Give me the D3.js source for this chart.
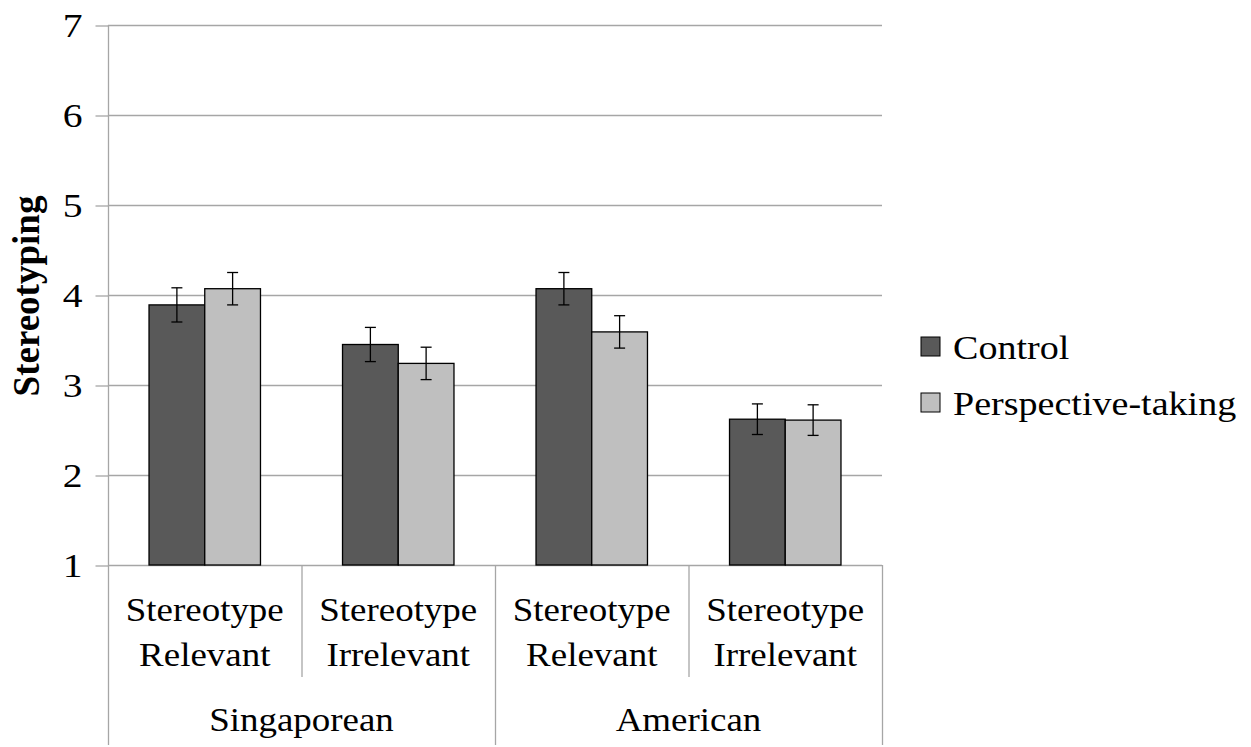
<!DOCTYPE html>
<html>
<head>
<meta charset="utf-8">
<script src="https://cdn.jsdelivr.net/npm/d3@7"></script>
<style>
  body { margin: 0; background: #fff; }
  text { font-family: "Liberation Serif", "Times New Roman", serif; fill: #000; }
</style>
</head>
<body>
<div id="chart"></div>
<script>
// chart data
var categories = ["SG-Relevant", "SG-Irrelevant", "US-Relevant", "US-Irrelevant"];
var catLine1 = ["Stereotype", "Stereotype", "Stereotype", "Stereotype"];
var catLine2 = ["Relevant", "Irrelevant", "Relevant", "Irrelevant"];
var groups = ["Singaporean", "American"];
var series = ["Control", "Perspective-taking"];
var controlValues = [3.89, 3.45, 4.07, 2.62];
var controlErrors = [0.19, 0.19, 0.18, 0.17];
var perspectiveValues = [4.07, 3.24, 3.59, 2.61];
var perspectiveErrors = [0.18, 0.18, 0.18, 0.17];
var yTicks = [1, 2, 3, 4, 5, 6, 7];

var svgWidth = 1251;
var svgHeight = 747;
var colors = ["#595959", "#bfbfbf"];
var gridColor = "#a6a6a6";
var sx = 1.12; // text in the original is a bit wider than Times

var svg = d3.select("#chart")
  .append("svg")
  .attr("width", svgWidth)
  .attr("height", svgHeight);

var plotLeft = 108, plotRight = 882, plotTop = 25, plotBottom = 565;

var x = d3.scaleBand()
  .domain(categories)
  .range([plotLeft, plotRight])
  .paddingInner(0)
  .paddingOuter(0);

var xInner = d3.scaleBand()
  .domain(series)
  .range([x.bandwidth() * 0.212, x.bandwidth() * 0.788]);

var y = d3.scaleLinear()
  .domain([1, 7])
  .range([plotBottom, plotTop]);

// gridlines
svg.append("g")
  .selectAll("line")
  .data(yTicks.slice(1))
  .enter()
  .append("line")
  .attr("x1", plotLeft)
  .attr("x2", plotRight)
  .attr("y1", d => y(d) + 0.5)
  .attr("y2", d => y(d) + 0.5)
  .attr("stroke", gridColor)
  .attr("stroke-width", 1.3);

// y axis
var leftAxis = d3.axisLeft(y)
  .tickValues(yTicks)
  .tickSize(13)
  .tickFormat(d3.format("d"));

var yAxis = svg.append("g")
  .attr("transform", `translate(${plotLeft + 0.5}, 0.5)`)
  .call(leftAxis);
yAxis.select(".domain").remove();
yAxis.selectAll(".tick line").attr("stroke", gridColor).attr("stroke-width", 1.3);
yAxis.selectAll(".tick text")
  .attr("x", null)
  .attr("dy", "0.34em")
  .attr("transform", "translate(-26, 0) scale(1.2, 1)")
  .style("font-size", "33px")
  .style("font-family", "Liberation Serif");

// axis lines
svg.append("line")
  .attr("x1", plotLeft + 0.5).attr("x2", plotLeft + 0.5)
  .attr("y1", plotTop).attr("y2", 745)
  .attr("stroke", gridColor).attr("stroke-width", 1.3);
svg.append("line")
  .attr("x1", plotLeft).attr("x2", plotRight)
  .attr("y1", plotBottom + 0.5).attr("y2", plotBottom + 0.5)
  .attr("stroke", gridColor).attr("stroke-width", 1.3);

// category separators (short ones between conditions, long ones between groups)
var seps = d3.range(1, categories.length + 1);
svg.append("g")
  .selectAll("line")
  .data(seps)
  .enter()
  .append("line")
  .attr("x1", d => (d < categories.length ? x(categories[d]) : plotRight) + 0.5)
  .attr("x2", d => (d < categories.length ? x(categories[d]) : plotRight) + 0.5)
  .attr("y1", plotBottom)
  .attr("y2", d => d % 2 === 0 ? 745 : 677)
  .attr("stroke", gridColor)
  .attr("stroke-width", 1.3);

// bars
var barData = [];
categories.forEach(function(c, i) {
  barData.push({ cat: c, s: series[0], v: controlValues[i], e: controlErrors[i], color: colors[0] });
  barData.push({ cat: c, s: series[1], v: perspectiveValues[i], e: perspectiveErrors[i], color: colors[1] });
});

svg.append("g")
  .selectAll("rect")
  .data(barData)
  .enter()
  .append("rect")
  .attr("x", d => x(d.cat) + xInner(d.s))
  .attr("y", d => y(d.v))
  .attr("width", xInner.bandwidth())
  .attr("height", d => y(1) - y(d.v))
  .attr("fill", d => d.color)
  .attr("stroke", "#000")
  .attr("stroke-width", 1.3);

// error bars
var err = svg.append("g")
  .selectAll("g")
  .data(barData)
  .enter()
  .append("g")
  .attr("transform", d => `translate(${x(d.cat) + xInner(d.s) + xInner.bandwidth() / 2}, 0)`);

err.append("line")
  .attr("x1", 0).attr("x2", 0)
  .attr("y1", d => y(d.v + d.e))
  .attr("y2", d => y(d.v - d.e))
  .attr("stroke", "#000").attr("stroke-width", 1.3);
err.append("line")
  .attr("x1", -5.5).attr("x2", 5.5)
  .attr("y1", d => y(d.v + d.e))
  .attr("y2", d => y(d.v + d.e))
  .attr("stroke", "#000").attr("stroke-width", 1.3);
err.append("line")
  .attr("x1", -5.5).attr("x2", 5.5)
  .attr("y1", d => y(d.v - d.e))
  .attr("y2", d => y(d.v - d.e))
  .attr("stroke", "#000").attr("stroke-width", 1.3);

// category labels
var catLabels = svg.append("g")
  .selectAll("g")
  .data(categories)
  .enter()
  .append("g");
catLabels.append("text")
  .attr("transform", d => `translate(${x(d) + x.bandwidth() / 2}, 621) scale(${sx}, 1)`)
  .attr("text-anchor", "middle")
  .style("font-size", "33px")
  .text((d, i) => catLine1[i]);
catLabels.append("text")
  .attr("transform", d => `translate(${x(d) + x.bandwidth() / 2}, 666) scale(${sx}, 1)`)
  .attr("text-anchor", "middle")
  .style("font-size", "33px")
  .text((d, i) => catLine2[i]);

// group labels
svg.append("g")
  .selectAll("text")
  .data(groups)
  .enter()
  .append("text")
  .attr("transform", (d, i) => `translate(${x(categories[i * 2 + 1])}, 731) scale(${sx}, 1)`)
  .attr("text-anchor", "middle")
  .style("font-size", "33px")
  .text(d => d);

// y axis title
svg.append("text")
  .attr("transform", "translate(39, 296) rotate(-90)")
  .attr("text-anchor", "middle")
  .style("font-size", "37px")
  .style("font-weight", "bold")
  .text("Stereotyping");

// legend
var legend = svg.append("g")
  .selectAll("g")
  .data(series)
  .enter()
  .append("g")
  .attr("transform", (d, i) => `translate(921, ${337 + i * 56})`);
legend.append("rect")
  .attr("width", 19)
  .attr("height", 19)
  .attr("fill", (d, i) => colors[i])
  .attr("stroke", "#000")
  .attr("stroke-width", 1);
legend.append("text")
  .attr("transform", `translate(32, 22) scale(${sx}, 1)`)
  .style("font-size", "34px")
  .text(d => d);
</script>
</body>
</html>
